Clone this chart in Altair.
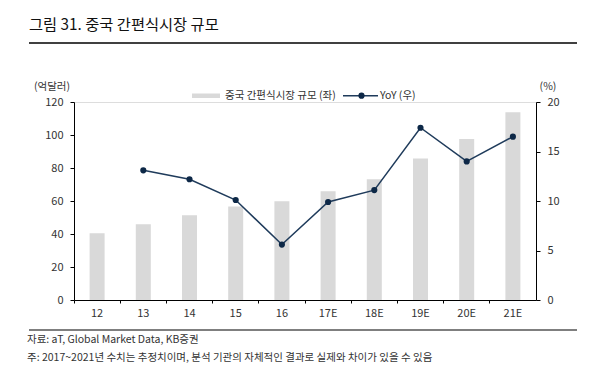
import altair as alt
import pandas as pd

categories = ["12", "13", "14", "15", "16", "17E", "18E", "19E", "20E", "21E"]
market = [40.4, 45.9, 51.3, 56.6, 59.8, 65.9, 73.2, 85.7, 97.6, 113.8]
yoy = [None, 13.1, 12.2, 10.1, 5.6, 9.9, 11.1, 17.4, 14.0, 16.5]
left_ticks = [0, 20, 40, 60, 80, 100, 120]
right_ticks = [0, 5, 10, 15, 20]

title_text = "그림 31. 중국 간편식시장 규모"
bar_label = "중국 간편식시장 규모 (좌)"
line_label = "YoY (우)"
left_unit = "(억달러)"
right_unit = "(%)"
source_text = "자료: aT, Global Market Data, KB증권"
note_text = "주: 2017~2021년 수치는 추정치이며, 분석 기관의 자체적인 결과로 실제와 차이가 있을 수 있음"

FONT = "Noto Sans CJK KR"
W, H = 462, 198

df = pd.DataFrame({"cat": categories, "market": market, "yoy": yoy})
xscale = alt.Scale(type="band", paddingInner=0, paddingOuter=0)

bars = alt.Chart(df).mark_bar(color="#d9d9d9", size=15).encode(
    x=alt.X("cat:N", sort=categories, scale=xscale, title=None,
            axis=alt.Axis(orient="bottom", ticks=False, labelAngle=0, labelPadding=7,
                          labelFontSize=11, labelColor="#333", labelFont=FONT,
                          domainColor="#000")),
    y=alt.Y("market:Q", scale=alt.Scale(domain=[0, 120]), title=None,
            axis=alt.Axis(values=left_ticks, orient="left", tickSize=4, labelPadding=7,
                          labelFontSize=11, labelColor="#333", labelFont=FONT,
                          domainColor="#000", tickColor="#000", grid=False)),
)

line = alt.Chart(df).mark_line(
    color="#1f3b5b", strokeWidth=1.5,
    point=alt.OverlayMarkDef(color="#0d2847", size=38, filled=True, opacity=1),
).encode(
    x=alt.X("cat:N", sort=categories, scale=xscale, title=None,
            axis=alt.Axis(orient="bottom", labels=False, ticks=True, tickSize=3,
                          bandPosition=0, domain=False, tickColor="#000")),
    y=alt.Y("yoy:Q", scale=alt.Scale(domain=[0, 20]), title=None,
            axis=alt.Axis(values=right_ticks, orient="right", tickSize=4, labelPadding=7,
                          labelFontSize=11, labelColor="#333", labelFont=FONT,
                          domainColor="#000", tickColor="#000", grid=False)),
)

one = alt.Data(values=[{}])


def txt(s, x, y, size=11, align="left", color="#333", weight="normal"):
    return alt.Chart(one).mark_text(
        text=s, align=align, baseline="middle", font=FONT, fontSize=size,
        color=color, fontWeight=weight,
    ).encode(x=alt.value(x), y=alt.value(y))


def hrule(x1, x2, y, color="#000", width=1.5):
    return alt.Chart(one).mark_rule(color=color, strokeWidth=width).encode(
        x=alt.value(x1), x2=alt.value(x2), y=alt.value(y))


legend_rect = alt.Chart(one).mark_rect(color="#d9d9d9").encode(
    x=alt.value(118), x2=alt.value(146), y=alt.value(-8.5), y2=alt.value(-4))
legend_line = alt.Chart(one).mark_rule(color="#1f3b5b", strokeWidth=1.5).encode(
    x=alt.value(269), x2=alt.value(304), y=alt.value(-6.3))
legend_dot = alt.Chart(one).mark_point(color="#0d2847", size=38, filled=True, opacity=1).encode(
    x=alt.value(287.5), y=alt.value(-6.3))

chart = alt.layer(
    bars, line,
    txt(title_text, -45, -77, size=15.3, color="#111"),
    hrule(-45, 503, -59),
    legend_rect, txt(bar_label, 151, -6.3, size=10.5),
    legend_line, legend_dot, txt(line_label, 306, -6.3, size=10.5),
    txt(left_unit, -22, -15, size=10.5, align="center"),
    txt(right_unit, 474, -15, size=10.5, align="center"),
    hrule(-45, 503, 228, width=1.2),
    txt(source_text, -47, 238, size=10.5),
    txt(note_text, -47, 256, size=10.5),
).resolve_scale(y="independent").resolve_axis(x="independent").properties(
    width=W, height=H,
    autosize=alt.AutoSizeParams(type="none"),
    padding={"left": 66, "top": 94, "right": 67, "bottom": 66},
).configure_view(stroke=None).configure(background="white")

chart.save("out.html", embed_options={"renderer": "svg", "actions": False})
